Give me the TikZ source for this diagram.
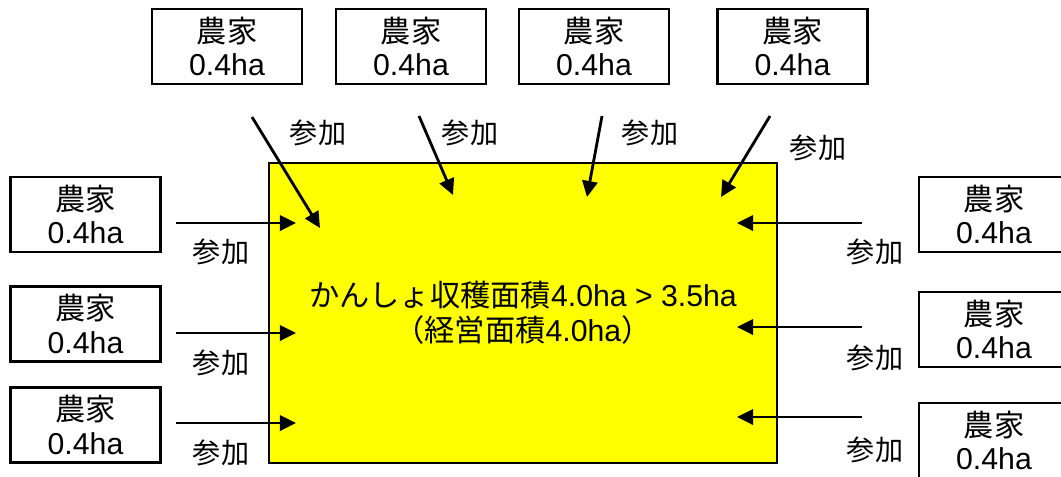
\documentclass[tikz,border=0pt]{standalone}
\usepackage{fontspec}
\setmainfont{Liberation Sans}
\newfontfamily\cjk{Noto Sans CJK JP}
\usetikzlibrary{arrows.meta}
\definecolor{areayellow}{RGB}{255,255,0}
\newcommand{\farmertext}{{\cjk 農家}\\0.4ha}
\begin{document}
\begin{tikzpicture}[x=0.025cm,y=-0.025cm,
		farmer/.style={draw,line width=2pt,minimum width=3.75cm,minimum height=1.875cm,inner sep=0pt,align=center,font=\fontsize{21.5}{24}\selectfont},
		joinarrow/.style={line width=2pt,-{Triangle[length=0.4cm,width=0.38cm]}},
		joinlabel/.style={font=\cjk\fontsize{20}{22}\selectfont}]
		\clip (0,0) rectangle (1061,476);
		% area of the joint harvest
		\node[draw,line width=2pt,fill=areayellow,minimum width=12.7cm,minimum height=7.5cm,align=center,font=\fontsize{21.5}{25}\selectfont] (area) at (523,313)
			{{\cjk かんしょ収穫面積}4.0ha > 3.5ha\\{\cjk （経営面積}4.0ha{\cjk ）}};
		% farmers
		\node[farmer] (t1) at (227,46.5) {\farmertext};
		\node[farmer] (t2) at (411,46.5) {\farmertext};
		\node[farmer] (t3) at (594,46.5) {\farmertext};
		\node[farmer] (t4) at (792.5,46.5) {\farmertext};
		\node[farmer] (l1) at (85.5,214.5) {\farmertext};
		\node[farmer] (l2) at (85.5,324) {\farmertext};
		\node[farmer] (l3) at (85.5,425) {\farmertext};
		\node[farmer] (r1) at (994,214.5) {\farmertext};
		\node[farmer] (r2) at (994,329.5) {\farmertext};
		\node[farmer] (r3) at (994,440.5) {\farmertext};
		% arrow ends
		\coordinate (t1s) at (252,117);  \coordinate (t1e) at (320,228);
		\coordinate (t2s) at (419,116);  \coordinate (t2e) at (453,195);
		\coordinate (t3s) at (602,116);  \coordinate (t3e) at (587,197);
		\coordinate (t4s) at (770,116);  \coordinate (t4e) at (721,197);
		\coordinate (l1s) at (176,223);  \coordinate (l1e) at (296,223);
		\coordinate (l2s) at (176,333);  \coordinate (l2e) at (296,333);
		\coordinate (l3s) at (176,423);  \coordinate (l3e) at (296,423);
		\coordinate (r1s) at (862,223);  \coordinate (r1e) at (737,223);
		\coordinate (r2s) at (862,327);  \coordinate (r2e) at (737,327);
		\coordinate (r3s) at (862,417);  \coordinate (r3e) at (737,417);
		\draw[joinarrow] (t1s) -- (t1e);
		\draw[joinarrow] (t2s) -- (t2e);
		\draw[joinarrow] (t3s) -- (t3e);
		\draw[joinarrow] (t4s) -- (t4e);
		\draw[joinarrow] (l1s) -- (l1e);
		\draw[joinarrow] (l2s) -- (l2e);
		\draw[joinarrow] (l3s) -- (l3e);
		\draw[joinarrow] (r1s) -- (r1e);
		\draw[joinarrow] (r2s) -- (r2e);
		\draw[joinarrow] (r3s) -- (r3e);
		% labels
		\node[joinlabel] (t1l) at (318,133) {参加};
		\node[joinlabel] (t2l) at (470,133) {参加};
		\node[joinlabel] (t3l) at (650,133) {参加};
		\node[joinlabel] (t4l) at (818,148) {参加};
		\node[joinlabel] (l1l) at (221,252) {参加};
		\node[joinlabel] (l2l) at (221,363) {参加};
		\node[joinlabel] (l3l) at (221,453) {参加};
		\node[joinlabel] (r1l) at (875,252) {参加};
		\node[joinlabel] (r2l) at (875,358) {参加};
		\node[joinlabel] (r3l) at (875,450) {参加};
	\end{tikzpicture}
\end{document}
